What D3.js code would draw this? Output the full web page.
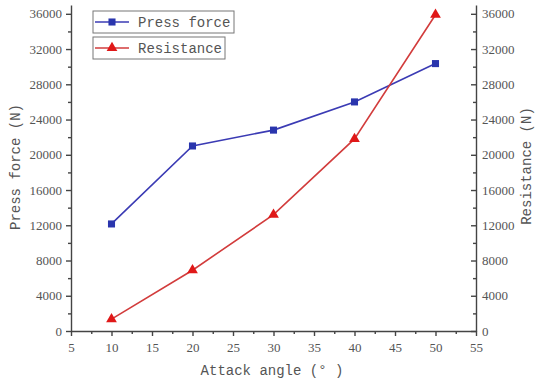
<!DOCTYPE html>
<html>
<head>
<meta charset="utf-8">
<script src="https://cdn.jsdelivr.net/npm/d3@7"></script>
<style>
  body { margin: 0; background: #fff; }
  svg { display: block; }
  .tick text { font-family: "Liberation Serif", "Times New Roman", serif; font-size: 13px; fill: #555; }
  .axis path, .axis line { stroke: #444; stroke-width: 1.4px; }
  .title { font-family: "Liberation Mono", "DejaVu Sans Mono", monospace; font-size: 14px; fill: #555; }
</style>
</head>
<body>
<svg width="535" height="383"></svg>
<script>
// data
var angles = [10, 20, 30, 40, 50];
var pressForce = [12150, 21000, 22800, 26000, 30350];
var resistance = [1350, 6900, 13200, 21800, 35900];
var xTicks = [5, 10, 15, 20, 25, 30, 35, 40, 45, 50, 55];
var yTicks = [0, 4000, 8000, 12000, 16000, 20000, 24000, 28000, 32000, 36000];

var blue = "#3b3bb4", red = "#d23c3c";

var svg = d3.select("svg");

// plot frame: left axis, right axis and bottom axis
var plotLeft = 71, plotRight = 476, plotTop = 5, plotBottom = 331;

var x = d3.scaleLinear().domain([5, 55]).range([plotLeft, plotRight]);
var y = d3.scaleLinear().domain([0, 37000]).range([plotBottom, plotTop]);
var fmt = d3.format("d");

// minor ticks first, majors on top
var xMinor = d3.range(7.5, 55, 5);
var yMinor = d3.range(2000, 37000, 4000);

svg.append("g")
    .attr("class", "axis")
    .attr("transform", "translate(0," + plotBottom + ")")
    .call(d3.axisBottom(x).tickValues(xMinor).tickSize(3).tickFormat(""))
    .call(function (g) { g.select(".domain").remove(); });

svg.append("g")
    .attr("class", "axis")
    .attr("transform", "translate(0," + plotBottom + ")")
    .call(d3.axisBottom(x).tickValues(xTicks).tickSize(5).tickSizeOuter(0).tickPadding(7).tickFormat(fmt));

svg.append("g")
    .attr("class", "axis")
    .attr("transform", "translate(" + plotLeft + ",0)")
    .call(d3.axisLeft(y).tickValues(yMinor).tickSize(3).tickFormat(""))
    .call(function (g) { g.select(".domain").remove(); });

svg.append("g")
    .attr("class", "axis")
    .attr("transform", "translate(" + plotLeft + ",0)")
    .call(d3.axisLeft(y).tickValues(yTicks).tickSize(5).tickSizeOuter(0).tickPadding(4).tickFormat(fmt));

// right axis: ticks point into the plot
svg.append("g")
    .attr("class", "axis")
    .attr("transform", "translate(" + plotRight + ",0)")
    .call(d3.axisRight(y).tickValues(yMinor).tickSize(-3).tickFormat(""))
    .call(function (g) { g.select(".domain").remove(); });

svg.append("g")
    .attr("class", "axis")
    .attr("transform", "translate(" + plotRight + ",0)")
    .call(d3.axisRight(y).tickValues(yTicks).tickSize(-5).tickSizeOuter(0).tickPadding(6).tickFormat(fmt));

// axis titles
svg.append("text")
    .attr("class", "title")
    .attr("x", 272).attr("y", 375)
    .attr("text-anchor", "middle")
    .text("Attack angle (° )");

svg.append("text")
    .attr("class", "title")
    .attr("transform", "translate(20,167) rotate(-90)")
    .attr("text-anchor", "middle")
    .text("Press force (N)");

svg.append("text")
    .attr("class", "title")
    .attr("transform", "translate(531,166) rotate(-90)")
    .attr("text-anchor", "middle")
    .text("Resistance (N)");

// series
var line = d3.line()
    .x(function (d) { return x(d[0]); })
    .y(function (d) { return y(d[1]); });

var pressPts = angles.map(function (a, i) { return [a, pressForce[i]]; });
var resPts = angles.map(function (a, i) { return [a, resistance[i]]; });

svg.append("path")
    .datum(pressPts)
    .attr("fill", "none")
    .attr("stroke", blue)
    .attr("stroke-width", 1.6)
    .attr("d", line);

svg.append("path")
    .datum(resPts)
    .attr("fill", "none")
    .attr("stroke", red)
    .attr("stroke-width", 1.6)
    .attr("d", line);

var square = d3.symbol().type(d3.symbolSquare).size(50);
var triangle = d3.symbol().type(d3.symbolTriangle).size(50);

svg.selectAll(".press-marker")
    .data(pressPts)
    .enter().append("path")
    .attr("class", "press-marker")
    .attr("transform", function (d) { return "translate(" + x(d[0]) + "," + y(d[1]) + ")"; })
    .attr("d", square)
    .attr("fill", "#2a35ad");

svg.selectAll(".res-marker")
    .data(resPts)
    .enter().append("path")
    .attr("class", "res-marker")
    .attr("transform", function (d) { return "translate(" + x(d[0]) + "," + y(d[1]) + ")"; })
    .attr("d", triangle)
    .attr("fill", "#e01818");

// legend, one box per entry
var legend = [
    { name: "Press force", color: blue, mark: square, fill: "#2a35ad", w: 141 },
    { name: "Resistance", color: red, mark: triangle, fill: "#e01818", w: 132 }
];

var lg = svg.selectAll(".legend")
    .data(legend)
    .enter().append("g")
    .attr("class", "legend")
    .attr("transform", function (d, i) { return "translate(93," + (11 + i * 26) + ")"; });

lg.append("rect")
    .attr("width", function (d) { return d.w; })
    .attr("height", 22)
    .attr("fill", "#fff")
    .attr("stroke", "#777")
    .attr("stroke-width", 1);

lg.append("line")
    .attr("x1", 2).attr("x2", 36)
    .attr("y1", 11).attr("y2", 11)
    .attr("stroke", function (d) { return d.color; })
    .attr("stroke-width", 1.6);

lg.append("path")
    .attr("transform", "translate(19,11)")
    .attr("d", function (d) { return d.mark(); })
    .attr("fill", function (d) { return d.fill; });

lg.append("text")
    .attr("class", "title")
    .attr("x", 45).attr("y", 16)
    .text(function (d) { return d.name; });
</script>
</body>
</html>
